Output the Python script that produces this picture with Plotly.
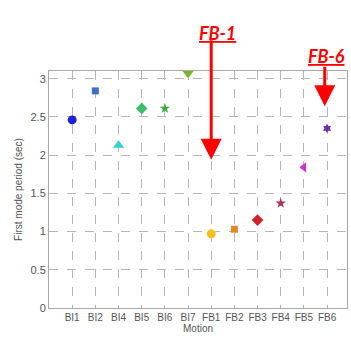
import plotly.graph_objects as go

motions = ["BI1", "BI2", "BI4", "BI5", "BI6", "BI7", "FB1", "FB2", "FB3", "FB4", "FB5", "FB6"]
periods = [2.46, 2.84, 2.13, 2.61, 2.61, 3.07, 0.97, 1.03, 1.15, 1.37, 1.84, 2.35]
symbols = ["circle", "square", "triangle-up", "diamond", "star", "triangle-down",
           "circle", "square", "diamond", "star", "triangle-left", "hexagram"]
colors = ["#1c22d8", "#3f6fcb", "#36d0d0", "#3cbf6c", "#3aa845", "#7ab52c",
          "#f0c020", "#e0892c", "#d8202a", "#a6365c", "#cc33cc", "#6a2fb0"]
sizes = [9, 7, 10, 9, 8, 10, 9, 7, 9, 8, 9, 7]

yticks = [0, 0.5, 1, 1.5, 2, 2.5, 3]
ytick_text = ["0", "0.5", "1", "1.5", "2", "2.5", "3"]

x_idx = list(range(len(motions)))

fig = go.Figure()
for i in x_idx:
    fig.add_trace(go.Scatter(
        x=[x_idx[i]], y=[periods[i]], mode="markers",
        marker=dict(symbol=symbols[i], color=colors[i], size=sizes[i], line=dict(width=0)),
        showlegend=False, cliponaxis=False,
    ))

font_tick = dict(family="Liberation Sans, Arial, sans-serif", size=10, color="#555555")

fig.update_layout(
    width=351, height=337,
    margin=dict(l=49, r=4, t=71, b=29),
    paper_bgcolor="white", plot_bgcolor="white",
    font=font_tick,
    xaxis=dict(
        range=[-1, 11.86], tickvals=x_idx, ticktext=motions,
        showgrid=True, gridcolor="#b5b5b5", griddash="dash", gridwidth=1,
        showline=True, linecolor="#aaaaaa", mirror=True, linewidth=1,
        zeroline=False, ticks="", tickfont=font_tick,
        title=dict(text="Motion", font=dict(size=10, color="#555555"), standoff=2),
    ),
    yaxis=dict(
        range=[0, 3.1], tickvals=yticks, ticktext=ytick_text,
        showgrid=True, gridcolor="#b5b5b5", griddash="dash", gridwidth=1,
        showline=True, linecolor="#aaaaaa", mirror=True, linewidth=1,
        zeroline=False, ticks="", tickfont=dict(family="Liberation Sans, Arial, sans-serif", size=11, color="#555555"),
        title=dict(text="First mode period (sec)", font=dict(size=10, color="#555555"), standoff=6),
    ),
    annotations=[
        dict(x=6, y=1.94, xref="x", yref="y", text="", showarrow=True,
             ax=0, ay=-121, arrowcolor="#ff0000", arrowwidth=3, arrowhead=2, arrowsize=1.4),
        dict(x=10.9, y=2.64, xref="x", yref="y", text="", showarrow=True,
             ax=0, ay=-41, arrowcolor="#ff0000", arrowwidth=3, arrowhead=2, arrowsize=1.4),
        dict(x=0.566, y=1.215, xref="paper", yref="paper", text="<b><i><u>FB-1</u></i></b>",
             showarrow=False, font=dict(family="Lato, sans-serif", size=18, color="#ff0000")),
        dict(x=1.0, y=1.118, xref="paper", yref="paper", xanchor="right", text="<b><i><u>FB-6</u></i></b>",
             showarrow=False, font=dict(family="Lato, sans-serif", size=18, color="#ff0000")),
    ],
)

fig.write_html("out.html")
